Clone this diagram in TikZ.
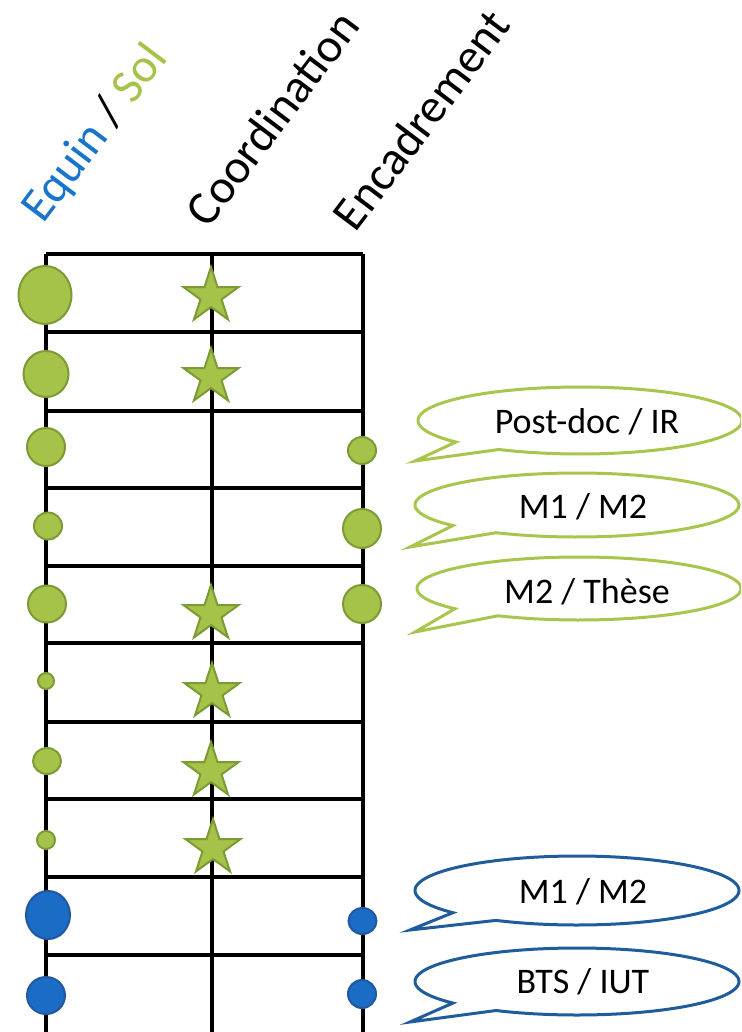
\documentclass[tikz,border=0pt]{standalone}
\usepackage{fontspec}
\setmainfont{Carlito}
\usetikzlibrary{shapes.geometric}
\definecolor{gfill}{HTML}{A5C249}
\definecolor{gdraw}{HTML}{7D9B35}
\definecolor{gline}{HTML}{A8C64E}
\definecolor{bfill}{HTML}{1A6CC4}
\definecolor{bdraw}{HTML}{2158A0}
\definecolor{bline}{HTML}{1F5C9C}
\definecolor{eqblue}{HTML}{1874CD}
\newcommand{\bubble}[7]{%
  \filldraw[draw=#7, fill=white, line width=3pt, line join=miter]
    plot[domain=140:480, samples=140, variable=\t] ({#1+#3*cos(\t)},{#2+#4*sin(\t)})
    -- (#5,#6) -- cycle;}
\begin{document}
\begin{tikzpicture}[x=1pt,y=-1pt,
  gridline/.style={line width=3.2pt, black},
  gdot/.style={ellipse, draw=gdraw, fill=gfill, line width=2pt, inner sep=0pt},
  bdot/.style={ellipse, draw=bdraw, fill=bfill, line width=2pt, inner sep=0pt},
  gstar/.style={star, star points=5, star point ratio=2.618, draw=gdraw, fill=gfill, line width=2pt, inner sep=0pt, minimum size=58pt},
  hdr/.style={rotate=53, inner sep=0pt, font=\fontsize{48}{57}\selectfont},
  lbl/.style={anchor=base, inner sep=0pt, font=\fontsize{36}{43}\selectfont}]
\useasboundingbox (0,0) rectangle (741,1032);
\clip (0,0) rectangle (741,1032);
% header
\node[hdr] (hEq) at (96,134) {{\color{eqblue}Equin} / {\color{gfill}Sol}};
\node[hdr] (hCo) at (272,118) {Coordination};
\node[hdr] (hEn) at (421,120) {Encadrement};
% grid
\draw[gridline] (46,254) -- (46,1040);
\draw[gridline] (212,254) -- (212,1040);
\draw[gridline] (363,254) -- (363,1040);
\foreach \yy in {254,332,411,488,566,643,722,799,877,955}
  \draw[gridline] (46,\yy) -- (363,\yy);
% left column
\node[gdot, minimum width=53pt, minimum height=58pt] (l1) at (45,295) {};
\node[gdot, minimum width=45pt, minimum height=46pt] (l2) at (46,374) {};
\node[gdot, minimum width=38pt, minimum height=38pt] (l3) at (46,447) {};
\node[gdot, minimum width=28pt, minimum height=27pt] (l4) at (48,526) {};
\node[gdot, minimum width=38pt, minimum height=37pt] (l5) at (47,604) {};
\node[gdot, minimum width=16pt, minimum height=16pt] (l6) at (46,681) {};
\node[gdot, minimum width=28pt, minimum height=26pt] (l7) at (47,761) {};
\node[gdot, minimum width=18pt, minimum height=18pt] (l8) at (46,840) {};
\node[bdot, minimum width=44pt, minimum height=48pt] (l9) at (48,915) {};
\node[bdot, minimum width=38pt, minimum height=37pt] (l10) at (46,995.5) {};
% right column
\node[gdot, minimum width=28pt, minimum height=27pt] (r3) at (362,450.5) {};
\node[gdot, minimum width=38pt, minimum height=39pt] (r4) at (362,528.5) {};
\node[gdot, minimum width=38pt, minimum height=38pt] (r5) at (362,604) {};
\node[bdot, minimum width=28pt, minimum height=26pt] (r9) at (362.5,921) {};
\node[bdot, minimum width=28pt, minimum height=28pt] (r10) at (362,994) {};
% stars
\node[gstar] (s1) at (211,296) {};
\node[gstar] (s2) at (211,377) {};
\node[gstar] (s5) at (211,614) {};
\node[gstar] (s6) at (212,692) {};
\node[gstar] (s7) at (211,771) {};
\node[gstar] (s8) at (213,848) {};
% callouts
\bubble{580}{420.5}{162}{33.5}{415}{461}{gline}
\node[lbl] (c1) at (587,433) {Post-doc / IR};
\bubble{577}{505}{162}{32}{410}{547}{gline}
\node[lbl] (c2) at (583,518) {M1 / M2};
\bubble{579}{588.5}{162}{31.5}{415}{632}{gline}
\node[lbl] (c3) at (587,603) {M2 / Thèse};
\bubble{577}{890.5}{162}{34.5}{410}{930}{bline}
\node[lbl] (c4) at (583,903) {M1 / M2};
\bubble{577}{981.5}{162}{33.5}{410}{1022}{bline}
\node[lbl] (c5) at (583,993) {BTS / IUT};
\end{tikzpicture}
\end{document}
